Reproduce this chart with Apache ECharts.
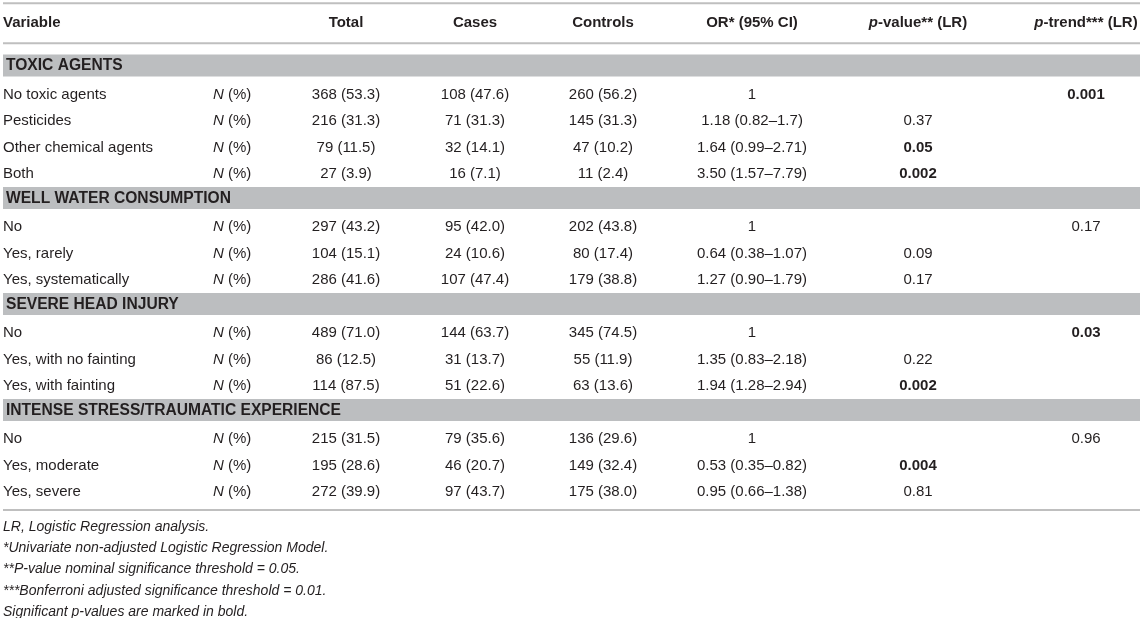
<!DOCTYPE html>
<html>
<head>
<meta charset="utf-8">
<title>Risk factors table</title>
<script src="https://cdn.jsdelivr.net/npm/echarts@6/dist/echarts.min.js"></script>
<style>
html, body { margin: 0; padding: 0; background: #fff; }
#main { width: 1143px; height: 618px; }
</style>
</head>
<body>
<div id="main"></div>
<script>
// table content
var columnHeaders = ['Variable', '', 'Total', 'Cases', 'Controls',
    'OR* (95% CI)', '{pi|p}-value** (LR)', '{pi|p}-trend*** (LR)'];
var groups = ['TOXIC AGENTS', 'WELL WATER CONSUMPTION',
    'SEVERE HEAD INJURY', 'INTENSE STRESS/TRAUMATIC EXPERIENCE'];
var groupSizes = [4, 3, 3, 3];
var levels = ['No toxic agents', 'Pesticides', 'Other chemical agents', 'Both',
    'No', 'Yes, rarely', 'Yes, systematically',
    'No', 'Yes, with no fainting', 'Yes, with fainting',
    'No', 'Yes, moderate', 'Yes, severe'];
var totalN = [368, 216, 79, 27, 297, 104, 286, 489, 86, 114, 215, 195, 272];
var totalPct = [53.3, 31.3, 11.5, 3.9, 43.2, 15.1, 41.6, 71.0, 12.5, 87.5, 31.5, 28.6, 39.9];
var casesN = [108, 71, 32, 16, 95, 24, 107, 144, 31, 51, 79, 46, 97];
var casesPct = [47.6, 31.3, 14.1, 7.1, 42.0, 10.6, 47.4, 63.7, 13.7, 22.6, 35.6, 20.7, 43.7];
var controlsN = [260, 145, 47, 11, 202, 80, 179, 345, 55, 63, 136, 149, 175];
var controlsPct = [56.2, 31.3, 10.2, 2.4, 43.8, 17.4, 38.8, 74.5, 11.9, 13.6, 29.6, 32.4, 38.0];
var oddsRatio = ['1', '1.18', '1.64', '3.50', '1', '0.64', '1.27', '1', '1.35', '1.94', '1', '0.53', '0.95'];
var ciLow = [null, '0.82', '0.99', '1.57', null, '0.38', '0.90', null, '0.83', '1.28', null, '0.35', '0.66'];
var ciHigh = [null, '1.7', '2.71', '7.79', null, '1.07', '1.79', null, '2.18', '2.94', null, '0.82', '1.38'];
var pValue = [null, '0.37', '0.05', '0.002', null, '0.09', '0.17', null, '0.22', '0.002', null, '0.004', '0.81'];
var pTrend = ['0.001', null, null, null, '0.17', null, null, '0.03', null, null, '0.96', null, null];
var significance = 0.05;
var footnotes = [
    'LR, Logistic Regression analysis.',
    '*Univariate non-adjusted Logistic Regression Model.',
    '**P-value nominal significance threshold = 0.05.',
    '***Bonferroni adjusted significance threshold = 0.01.',
    'Significant p-values are marked in bold.'
];

// layout
var COL_X = [3, 213, 346, 475, 603, 752, 918, 1086];
var COL_ALIGN = ['left', 'left', 'center', 'center', 'center', 'center', 'center', 'center'];
var ROW_STEP = 26.5;      // px per table row
var ROW0_PX = 66;         // pixel centre of the first band
var FONT = '"Liberation Sans", Arial, Helvetica, sans-serif';
var INK = '#231f20';

var yMin = -ROW0_PX / ROW_STEP;
var yMax = yMin + 618 / ROW_STEP;

// build cells / bands from the arrays
var cells = [];
var bands = [];
var row = 0;
var li = 0;

columnHeaders.forEach(function (h, c) {
    if (h) {
        cells.push({ x: COL_X[c], y: -1.634, text: h, align: COL_ALIGN[c], bold: true });
    }
});

function pct(v) { return v.toFixed(1); }
function isSig(p) { return p !== null && parseFloat(p) <= significance; }

groups.forEach(function (g, gi) {
    bands.push([0, row]);
    cells.push({ x: 6, y: row - 0.01, text: g, align: 'left', bold: true, size: 15.6 });
    row++;
    for (var k = 0; k < groupSizes[gi]; k++, li++, row++) {
        var or = oddsRatio[li];
        if (ciLow[li] !== null) {
            or += ' (' + ciLow[li] + '\u2013' + ciHigh[li] + ')';
        }
        var vals = [levels[li], '{ni|N} (%)',
            totalN[li] + ' (' + pct(totalPct[li]) + ')',
            casesN[li] + ' (' + pct(casesPct[li]) + ')',
            controlsN[li] + ' (' + pct(controlsPct[li]) + ')',
            or, pValue[li], pTrend[li]];
        vals.forEach(function (t, c) {
            if (t === null) return;
            var bold = (c === 6 && isSig(pValue[li])) || (c === 7 && isSig(pTrend[li]));
            cells.push({ x: COL_X[c], y: row + 0.08, text: t, align: COL_ALIGN[c], bold: bold });
        });
    }
});

var rules = [[0, -2.366], [0, -0.857], [0, row - 1 + 0.755]];

var chart = echarts.init(document.getElementById('main'), null, { renderer: 'canvas' });

var option = {
    animation: false,
    backgroundColor: '#ffffff',
    title: {
        text: footnotes.join('\n'),
        left: 0,
        top: 516,
        padding: [0, 0, 0, 3],
        textStyle: {
            fontFamily: FONT,
            fontSize: 14,
            fontStyle: 'italic',
            fontWeight: 'normal',
            color: INK,
            lineHeight: 21.4
        }
    },
    grid: { left: 0, right: 0, top: 0, bottom: 0 },
    xAxis: { type: 'value', min: 0, max: 1143, show: false },
    yAxis: { type: 'value', min: yMin, max: yMax, inverse: true, show: false },
    series: [
        {
            name: 'bands',
            type: 'custom',
            silent: true,
            data: bands,
            renderItem: function (params, api) {
                var a = api.coord([3, api.value(1)]);
                var b = api.coord([1140, api.value(1)]);
                var h = api.size([0, 0.83])[1];
                return {
                    type: 'rect',
                    shape: { x: a[0], y: a[1] - h / 2 - 0.5, width: b[0] - a[0], height: h },
                    style: { fill: '#bcbec0' }
                };
            }
        },
        {
            name: 'rules',
            type: 'custom',
            silent: true,
            data: rules,
            renderItem: function (params, api) {
                var a = api.coord([3, api.value(1)]);
                var b = api.coord([1140, api.value(1)]);
                return {
                    type: 'rect',
                    shape: { x: a[0], y: a[1] - 1, width: b[0] - a[0], height: 2 },
                    style: { fill: '#bfbfbf' }
                };
            }
        },
        {
            name: 'cells',
            type: 'custom',
            silent: true,
            data: cells.map(function (c) { return [c.x, c.y]; }),
            renderItem: function (params, api) {
                var c = cells[params.dataIndex];
                var p = api.coord([api.value(0), api.value(1)]);
                var w = c.bold ? 'bold' : 'normal';
                var fs = c.size || 15;
                return {
                    type: 'text',
                    x: p[0],
                    y: p[1],
                    style: {
                        text: c.text,
                        align: c.align,
                        verticalAlign: 'middle',
                        fill: INK,
                        fontFamily: FONT,
                        fontSize: fs,
                        fontWeight: w,
                        rich: {
                            ni: { fontFamily: FONT, fontSize: 15, fontStyle: 'italic', fill: INK },
                            pi: { fontFamily: FONT, fontSize: 15, fontStyle: 'italic', fontWeight: 'bold', fill: INK }
                        }
                    }
                };
            }
        }
    ]
};

chart.setOption(option);
</script>
</body>
</html>
